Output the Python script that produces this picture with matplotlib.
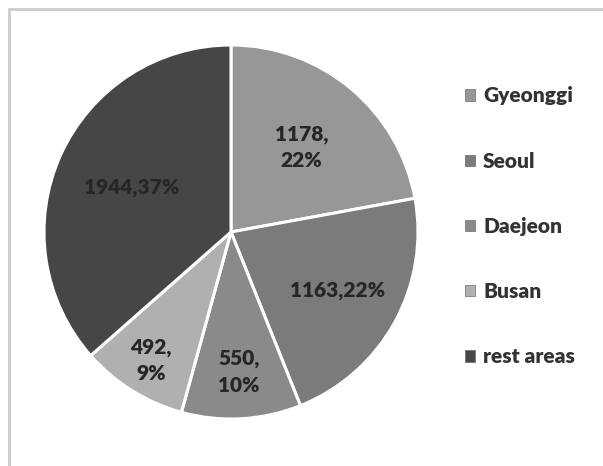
import numpy as np
import matplotlib.pyplot as plt
from matplotlib.patches import Patch, Rectangle

regions = ["Gyeonggi", "Seoul", "Daejeon", "Busan", "rest areas"]
counts = [1178, 1163, 550, 492, 1944]
shares = [22, 22, 10, 9, 37]
label_texts = ["1178,\n22%", "1163,22%", "550,\n10%", "492,\n9%", "1944,37%"]
colors = ["#979797", "#7b7b7b", "#8a8a8a", "#b0b0b0", "#464646"]
label_radius = [0.59, 0.65, 0.75, 0.81, 0.58]

W, H = 603, 466
fig = plt.figure(figsize=(W / 100, H / 100), dpi=100)
fig.patch.set_facecolor("white")

# light frame (top and left edges visible)
fig.add_artist(Rectangle((9 / W, -0.2), 1.5, 1.2 - 9 / H,
                         transform=fig.transFigure, fill=False,
                         edgecolor="#cccccc", linewidth=2.0))

cx, cy, R = 231, 232, 187
ax = fig.add_axes([(cx - R) / W, (H - cy - R) / H, 2 * R / W, 2 * R / H])
wedges, _ = ax.pie(counts, colors=colors, startangle=90, counterclock=False,
                   radius=1.0,
                   wedgeprops=dict(edgecolor="white", linewidth=2.2))
ax.set_xlim(-1, 1)
ax.set_ylim(-1, 1)
ax.set_aspect("equal")
ax.axis("off")

for w, txt, r in zip(wedges, label_texts, label_radius):
    ang = np.deg2rad((w.theta1 + w.theta2) / 2)
    ax.text(r * np.cos(ang), r * np.sin(ang), txt, ha="center", va="center",
            fontsize=15, fontweight="heavy", family="Lato", color="#262626",
            linespacing=1.45)

handles = [Patch(facecolor=c, edgecolor="#6a6a6a", linewidth=0.5) for c in colors]
leg = fig.legend(handles, regions, loc="upper left",
                 bbox_to_anchor=(457 / W, 1 - 78 / H), frameon=False,
                 prop=dict(family="Lato", weight="heavy", size=15),
                 labelcolor="#333333", handlelength=0.45, handleheight=0.45,
                 handletextpad=0.4, labelspacing=2.22, borderaxespad=0)

fig.savefig("out.png", dpi=100, facecolor="white")
